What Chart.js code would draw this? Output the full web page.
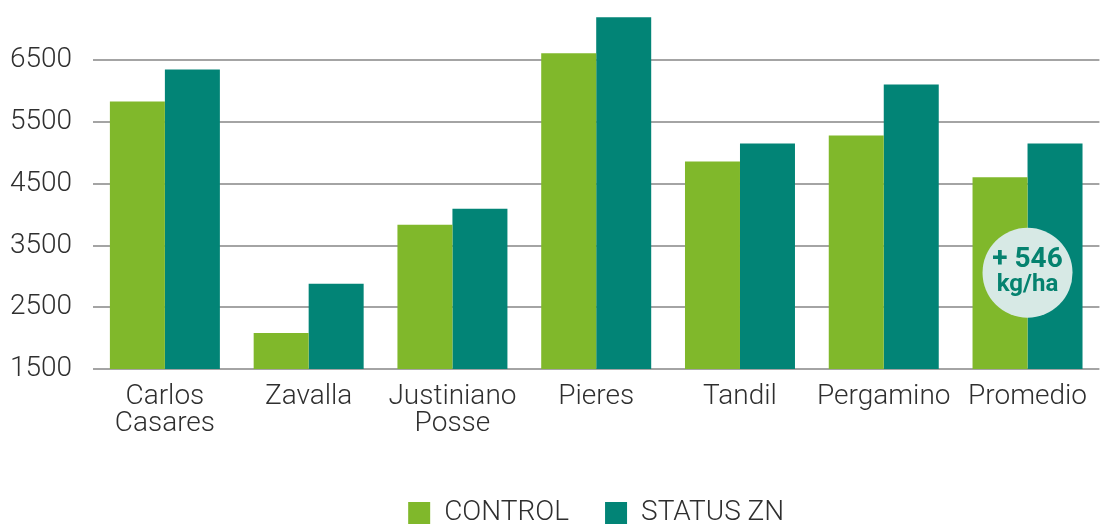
<!DOCTYPE html>
<html>
<head>
<meta charset="utf-8">
<script src="https://cdn.jsdelivr.net/npm/chart.js@4"></script>
<style>
  html, body { margin: 0; padding: 0; background: #fff; }
  #wrap { width: 1102px; height: 524px; }
</style>
</head>
<body>
<div id="wrap"><canvas id="myChart"></canvas></div>
<script>
    // Data
    const sites = [['Carlos', 'Casares'], 'Zavalla', ['Justiniano', 'Posse'], 'Pieres', 'Tandil', 'Pergamino', 'Promedio'];
    const control = [5834, 2084, 3838, 6614, 4860, 5282, 4607];
    const statusZn = [6354, 2880, 4097, 7198, 5153, 6110, 5153];
    const yTicks = [1500, 2500, 3500, 4500, 5500, 6500];

    // badge on the average pair
    const badgeIndex = 6;
    const badgeValue = 3060;
    const badgeLines = ['+ 546', 'kg/ha'];

    const GREEN = '#80b82b';
    const TEAL = '#028476';
    const FONT = 'Roboto';

    // draws the round "+ 546 kg/ha" badge
    const badgePlugin = {
        id: 'badge',
        afterLayout(chart) {
            // legend sits centred under the plot area, not the canvas, and a bit lower
            const shift = (chart.chartArea.left + chart.chartArea.right) / 2 - chart.width / 2;
            chart.legend.left += shift;
            chart.legend.right += shift;
            chart.legend.top += 13;
            chart.legend.bottom += 13;
        },
        afterDatasetsDraw(chart) {
            const ctx = chart.ctx;
            const x = chart.scales.x.getPixelForValue(badgeIndex);
            const y = chart.scales.y.getPixelForValue(badgeValue);
            ctx.save();
            ctx.beginPath();
            ctx.arc(x, y, 45, 0, Math.PI * 2);
            ctx.fillStyle = '#d7e9e5';
            ctx.fill();
            ctx.fillStyle = '#05826f';
            ctx.textAlign = 'center';
            ctx.textBaseline = 'middle';
            ctx.font = 'bold 28px ' + FONT;
            ctx.fillText(badgeLines[0], x, y - 13);
            ctx.font = 'bold 24px ' + FONT;
            ctx.fillText(badgeLines[1], x, y + 12);
            ctx.restore();
        }
    };

    var ctx = document.getElementById('myChart').getContext('2d');
    var chart = new Chart(ctx, {
        type: 'bar',
        data: {
            labels: sites,
            datasets: [
                { label: 'CONTROL', data: control, backgroundColor: GREEN },
                { label: 'STATUS ZN', data: statusZn, backgroundColor: TEAL }
            ]
        },
        options: {
            responsive: true,
            maintainAspectRatio: false,
            animation: false,
            layout: { padding: { top: 11, right: 0, left: 0, bottom: 0 } },
            datasets: {
                bar: { categoryPercentage: 0.765, barPercentage: 1.0 }
            },
            scales: {
                x: {
                    grid: { display: false, drawTicks: false },
                    border: { display: false },
                    ticks: {
                        color: '#2f2f2f',
                        padding: 15,
                        maxRotation: 0,
                        autoSkip: false,
                        font: { family: FONT, size: 28, weight: '300', lineHeight: 0.95 }
                    },
                    afterFit(scale) { scale.height = 81; }
                },
                y: {
                    min: 1500,
                    max: 7300,
                    border: { display: false },
                    grid: { color: '#a4a4a4', lineWidth: 2, drawTicks: false },
                    ticks: {
                        color: '#2f2f2f',
                        padding: 21,
                        font: { family: FONT, size: 28, weight: '300' },
                        callback: v => String(v)
                    },
                    afterBuildTicks(axis) {
                        axis.ticks = yTicks.map(v => ({ value: v }));
                    },
                    afterFit(scale) {
                        scale.width = 93;
                        scale.paddingTop = 0;
                        scale.paddingBottom = 0;
                    }
                }
            },
            plugins: {
                legend: {
                    position: 'bottom',
                    labels: {
                        color: '#2f2f2f',
                        boxWidth: 22,
                        boxHeight: 22,
                        padding: 36,
                        font: { family: FONT, size: 28, weight: '300' }
                    }
                },
                tooltip: { enabled: false }
            }
        },
        plugins: [badgePlugin]
    });
</script>
</body>
</html>
